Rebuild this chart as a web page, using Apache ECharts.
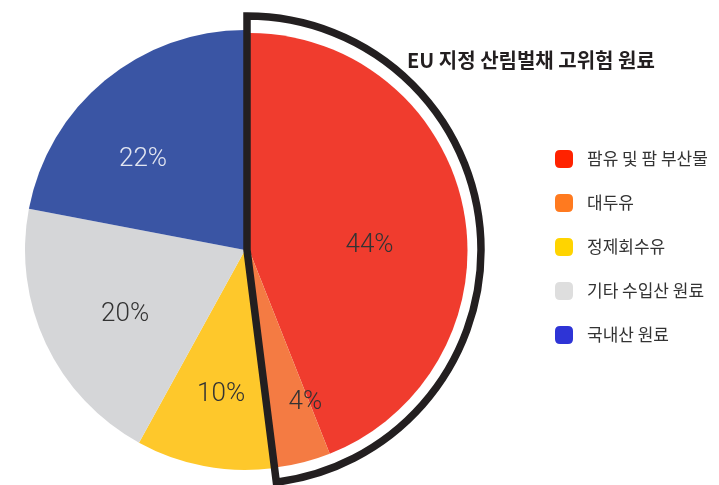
<!DOCTYPE html>
<html><head><meta charset="utf-8">
<script src="https://cdn.jsdelivr.net/npm/echarts@6/dist/echarts.min.js"></script>
<style>html,body{margin:0;padding:0;background:#fff}#c{width:719px;height:485px}</style>
</head><body><div id="c"></div>
<script>
// ---- data ----
const categories = ['팜유 및 팜 부산물', '대두유', '정제회수유', '기타 수입산 원료', '국내산 원료'];
const shares = [44, 4, 10, 20, 22];
const euHighRisk = [true, true, false, false, false];
const titleText = 'EU 지정 산림벌채 고위험 원료';

// ---- styles ----
const sliceColors = ['#f03c2e', '#f47b43', '#fec82b', '#d5d6d8', '#3a55a4'];
const legendColors = ['#ff2200', '#ff7a1f', '#ffd400', '#dedede', '#2e34d6'];
const labelColors = ['#333333', '#333333', '#333333', '#333333', '#e2e6f1'];
const labelNudge = [[-12, 21], [25, 19], [1, 9], [4, 6], [-15, 16]];

const hiSum = shares.reduce((s, v, i) => s + (euHighRisk[i] ? v : 0), 0);
const loSum = shares.reduce((s, v, i) => s + (euHighRisk[i] ? 0 : v), 0);

const blobIcon = 'path://M5,0 H13 Q18,0 18,5 V13 Q18,18 13,18 H5 Q0,18 0,13 V5 Q0,0 5,0 Z';

const chart = echarts.init(document.getElementById('c'), null, {renderer: 'canvas'});
const common = {
  type: 'pie', startAngle: 90, clockwise: true, silent: true,
  avoidLabelOverlap: false, labelLine: {show: false}, emphasis: {disabled: true}
};
chart.setOption({
  animation: false,
  backgroundColor: '#fff',
  title: {
    text: titleText, left: 407, top: 50, padding: 0,
    textStyle: {fontFamily: 'Noto Sans CJK KR', fontWeight: 'bold', fontSize: 20, lineHeight: 20, color: '#231f20'}
  },
  legend: {
    orient: 'vertical', left: 555, top: 150, padding: 0,
    itemWidth: 18, itemHeight: 18, itemGap: 26, icon: blobIcon,
    selectedMode: false,
    textStyle: {fontFamily: 'Noto Sans CJK KR', fontSize: 17, lineHeight: 18, color: '#333', padding: [0, 0, 0, 9]},
    data: categories.map((n, i) => ({name: n, itemStyle: {color: legendColors[i]}}))
  },
  series: [
    Object.assign({}, common, {
      name: 'base', center: [245, 250], radius: [0, 220], z: 1,
      label: {show: false},
      data: categories.map((n, i) => ({
        name: n, value: shares[i],
        itemStyle: {color: euHighRisk[i] ? 'transparent' : sliceColors[i], borderWidth: 0}
      }))
    }),
    Object.assign({}, common, {
      name: 'highlight', center: [249.5, 251], radius: [0, 218], z: 2,
      label: {show: false},
      data: categories.map((n, i) => ({
        name: n, value: shares[i],
        itemStyle: {color: euHighRisk[i] ? sliceColors[i] : 'transparent', borderWidth: 0}
      }))
    }),
    Object.assign({}, common, {
      name: 'outline', center: [247, 250], radius: [0, 234], z: 3,
      label: {show: false},
      data: [
        {name: 'EU 고위험', value: hiSum, itemStyle: {color: 'transparent', borderColor: '#231f20', borderWidth: 7.5, borderJoin: 'miter'}},
        {name: '기타', value: loSum, itemStyle: {color: 'transparent', borderWidth: 0}}
      ]
    }),
    Object.assign({}, common, {
      name: 'labels', center: [246, 250], radius: [50, 220], z: 4,
      label: {show: true, position: 'inside', formatter: '{c}%', fontFamily: 'Roboto', fontWeight: 300, fontSize: 26},
      labelLayout: function (p) {
        const d = labelNudge[p.dataIndex] || [0, 0];
        return {dx: d[0], dy: d[1]};
      },
      data: categories.map((n, i) => ({
        name: n, value: shares[i],
        itemStyle: {color: 'transparent', borderWidth: 0},
        label: {color: labelColors[i]}
      }))
    })
  ]
});
</script>
</body></html>
